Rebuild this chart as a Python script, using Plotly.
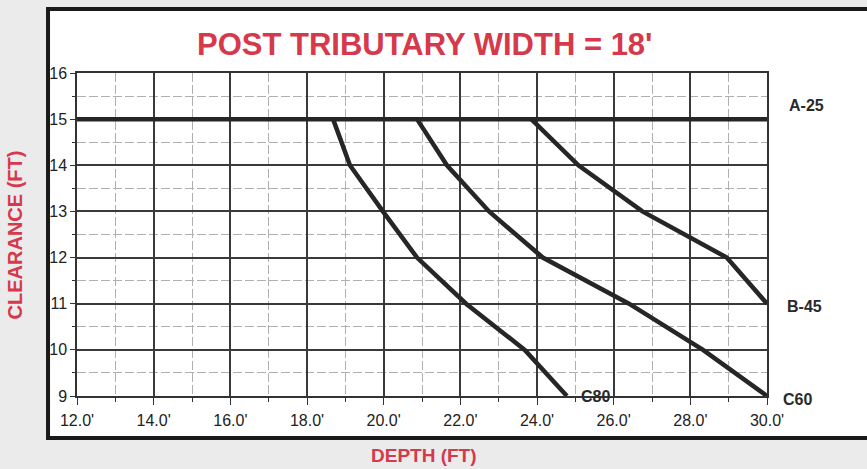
import plotly.graph_objects as go

# ---- data ----
clearance = [15, 14, 13, 12, 11, 10, 9]
a25_depth = [12.0, 30.0]
a25_clear = [15, 15]
c80_depth = [18.68, 19.12, 19.98, 20.87, 22.15, 23.68, 24.78]
c60_depth = [20.87, 21.65, 22.75, 24.15, 26.4, 28.33, 30.0]
b45_depth = [23.85, 25.08, 26.75, 28.95, 30.0]
b45_clear = [15, 14, 13, 12, 11]

x_ticks = [12, 14, 16, 18, 20, 22, 24, 26, 28, 30]
x_tick_text = ["12.0'", "14.0'", "16.0'", "18.0'", "20.0'", "22.0'", "24.0'", "26.0'", "28.0'", "30.0'"]
y_ticks = [9, 10, 11, 12, 13, 14, 15, 16]

title_text = "POST TRIBUTARY WIDTH = 18'"
x_title = "DEPTH (FT)"
y_title = "CLEARANCE (FT)"

RED = "#d6394b"
LINE = "#262626"
LW = 4.5

fig = go.Figure()
fig.add_trace(go.Scatter(x=a25_depth, y=a25_clear, mode="lines", line=dict(color=LINE, width=LW), name="A-25"))
fig.add_trace(go.Scatter(x=c80_depth, y=clearance, mode="lines", line=dict(color=LINE, width=LW), name="C80"))
fig.add_trace(go.Scatter(x=c60_depth, y=clearance, mode="lines", line=dict(color=LINE, width=LW), name="C60"))
fig.add_trace(go.Scatter(x=b45_depth, y=b45_clear, mode="lines", line=dict(color=LINE, width=LW), name="B-45"))

tickfont = dict(family="Liberation Sans Narrow, Arial Narrow, Liberation Sans, Arial", size=16, color="#222")
lblfont = dict(family="Liberation Sans, Arial", size=16, color="#2a2a2a")
MINOR_DASH = "9px,3px"

fig.update_xaxes(
    range=[12, 30], tickvals=x_ticks, ticktext=x_tick_text, tickfont=tickfont,
    showgrid=True, gridcolor="#3a3a3a", gridwidth=1.5,
    minor=dict(dtick=1, showgrid=True, gridcolor="#b0b0b0", griddash=MINOR_DASH, gridwidth=1,
               ticks="outside", ticklen=4, tickcolor="#333"),
    ticks="outside", ticklen=7, tickcolor="#333", ticklabelstandoff=2,
    showline=True, linecolor="#333", linewidth=1.5, mirror=True, zeroline=False,
)
fig.update_yaxes(
    range=[9, 16], tickvals=y_ticks, tickfont=tickfont,
    showgrid=True, gridcolor="#3a3a3a", gridwidth=1.5,
    minor=dict(dtick=0.5, showgrid=True, gridcolor="#b0b0b0", griddash=MINOR_DASH, gridwidth=1,
               ticks="outside", ticklen=3, tickcolor="#333"),
    ticks="outside", ticklen=5, tickcolor="#333",
    showline=True, linecolor="#333", linewidth=1.5, mirror=True, zeroline=False,
)

annotations = [
    dict(text="<b>" + title_text + "</b>", xref="paper", yref="paper", x=0.503, y=1.087, showarrow=False,
         font=dict(family="Liberation Sans, Arial", size=31, color=RED), xanchor="center", yanchor="middle"),
    dict(text="<b>" + x_title + "</b>", xref="paper", yref="paper", x=0.503, y=-0.183, showarrow=False,
         font=dict(family="Liberation Sans Narrow, Arial Narrow, Liberation Sans", size=19, color=RED),
         xanchor="center", yanchor="middle"),
    dict(text="<b>" + y_title + "</b>", xref="paper", yref="paper", x=-0.090, y=0.50, showarrow=False,
         textangle=-90, font=dict(family="Liberation Sans Narrow, Arial Narrow, Liberation Sans", size=20, color=RED),
         xanchor="center", yanchor="middle"),
    dict(text="<b>A-25</b>", x=a25_depth[-1], y=a25_clear[-1], xref="x", yref="y", showarrow=False,
         xanchor="left", yanchor="middle", xshift=20, yshift=14, font=lblfont),
    dict(text="<b>B-45</b>", x=b45_depth[-1], y=b45_clear[-1], xref="x", yref="y", showarrow=False,
         xanchor="left", yanchor="middle", xshift=18, yshift=-3, font=lblfont),
    dict(text="<b>C60</b>", x=c60_depth[-1], y=clearance[-1], xref="x", yref="y", showarrow=False,
         xanchor="left", yanchor="middle", xshift=14, yshift=-3, font=lblfont),
    dict(text="<b>C80</b>", x=c80_depth[-1], y=clearance[-1], xref="x", yref="y", showarrow=False,
         xanchor="left", yanchor="middle", xshift=12, yshift=0, font=lblfont),
]

shapes = [
    dict(type="rect", xref="paper", yref="paper", x0=-0.042, x1=1.16, y0=-0.130, y1=1.198,
         line=dict(color="#1a1a1a", width=4), fillcolor="white", layer="below"),
]

fig.update_layout(
    width=867, height=469,
    margin=dict(l=77, r=100, t=73, b=73),
    paper_bgcolor="#ebebeb", plot_bgcolor="white",
    showlegend=False, annotations=annotations, shapes=shapes,
)

fig.write_html(
    "out.html",
    config={"displayModeBar": False},
    post_script="document.body.style.margin='0';document.body.style.overflow='hidden';",
)
